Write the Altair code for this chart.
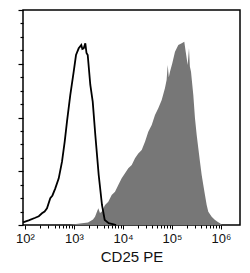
import altair as alt
import pandas as pd

# Unstained / isotype control (black outline histogram)
black_x = [91, 119, 162, 191, 222, 251, 281, 328, 363, 415, 488, 569, 646, 719, 839,
           986, 1099, 1247, 1409, 1479, 1578, 1702, 1799, 1905, 2153, 2410, 2723,
           3192, 3724, 4236, 5105, 6457, 7244]
black_y = [2.0, 3.5, 5.4, 6.5, 8.7, 10.0, 12.4, 19.9, 22.0, 27.3, 34.7, 47.1, 62.0,
           76.9, 96.7, 114.1, 126.5, 131.5, 133.9, 131.0, 131.5, 135.2, 128.0, 126.5,
           104.2, 91.8, 67.0, 37.2, 14.9, 3.7, 1.3, 0.5, 0.0]

# CD25 PE stained (filled grey histogram)
gray_x = [828, 1000, 1324, 1932, 2443, 2685, 3133, 3388, 3673, 4295, 5012, 5875, 6871,
          8017, 9397, 10990, 12820, 15070, 17580, 20510, 24100, 28120, 32810, 38550,
          44980, 52480, 61660, 71940, 77620, 81660, 86100, 91000, 101400, 115100,
          134600, 157800, 178200, 190500, 208900, 222300, 231700, 244300, 272300,
          294400, 319200, 344400, 372400, 403600, 435500, 471000, 510500, 550800,
          645700, 755100, 881000, 955000, 1047000]
gray_y = [0.0, 0.5, 1.1, 1.9, 4.1, 6.2, 12.4, 9.0, 9.9, 14.9, 17.3, 22.3, 24.8, 29.8,
          34.7, 38.5, 42.2, 44.6, 49.6, 53.3, 55.8, 62.0, 69.4, 74.4, 81.8, 86.8, 93.0,
          101.9, 108.0, 119.0, 110.0, 114.1, 120.3, 128.9, 133.9, 135.2, 136.4, 128.9,
          119.0, 131.5, 118.0, 114.1, 96.7, 79.4, 67.0, 57.1, 47.1, 37.2, 29.8, 22.3,
          14.9, 9.9, 6.2, 3.7, 2.0, 1.3, 0.0]

x_tick_values = [100, 200, 300, 400, 500, 600, 700, 800, 900,
                 1000, 2000, 3000, 4000, 5000, 6000, 7000, 8000, 9000,
                 10000, 20000, 30000, 40000, 50000, 60000, 70000, 80000, 90000,
                 100000, 200000, 300000, 400000, 500000, 600000, 700000, 800000, 900000,
                 1000000]
y_tick_values = [0, 10, 20, 30, 40, 50, 60, 70, 80, 90, 100, 110, 120, 130, 140, 150, 160]

df_b = pd.DataFrame({"x": black_x, "y": black_y})
df_g = pd.DataFrame({"x": gray_x, "y": gray_y})

FONT = "Liberation Sans"

xscale = alt.Scale(type="log", domain=[91, 2443000], nice=False)
yscale = alt.Scale(domain=[0, 160], nice=False)

label_expr = ("datum.value == 100 ? '10²' : datum.value == 1000 ? '10³' : "
              "datum.value == 10000 ? '10⁴' : datum.value == 100000 ? '10⁵' : "
              "datum.value == 1000000 ? '10⁶' : ''")
major_test = ("datum.value == 100 || datum.value == 1000 || datum.value == 10000 || "
              "datum.value == 100000 || datum.value == 1000000")

xaxis = alt.Axis(values=x_tick_values, title="CD25 PE", domain=False, grid=False,
                 labelExpr=label_expr,
                 tickSize={"condition": {"test": major_test, "value": 4}, "value": 3},
                 tickColor="black", tickWidth=1,
                 labelFont=FONT, labelFontSize=13, labelColor="#111111", labelPadding=3,
                 labelOverlap=False, labelFlush=False,
                 titleFont=FONT, titleFontSize=15, titleFontWeight="normal",
                 titleColor="#111111", titlePadding=4)

yaxis = alt.Axis(values=y_tick_values, title=None, domain=False, grid=False,
                 labels=False,
                 tickSize={"condition": {"test": "datum.value % 40 === 0", "value": 5}, "value": 3},
                 tickColor="black", tickWidth=1.2)

area = alt.Chart(df_g).mark_area(color="#777777", interpolate="linear").encode(
    x=alt.X("x:Q", scale=xscale, axis=xaxis),
    y=alt.Y("y:Q", scale=yscale, axis=yaxis),
)

line = alt.Chart(df_b).mark_line(color="black", strokeWidth=1.8, interpolate="linear").encode(
    x=alt.X("x:Q", scale=xscale, axis=xaxis),
    y=alt.Y("y:Q", scale=yscale, axis=yaxis),
)

chart = alt.layer(area, line).properties(
    width=217, height=215,
    padding={"left": 23, "top": 10, "right": 10, "bottom": 48},
    autosize=alt.AutoSizeParams(type="none"),
    background="white",
).configure_view(stroke="black", strokeWidth=1.5)

chart.save("out.html", embed_options={"renderer": "svg", "actions": False})
